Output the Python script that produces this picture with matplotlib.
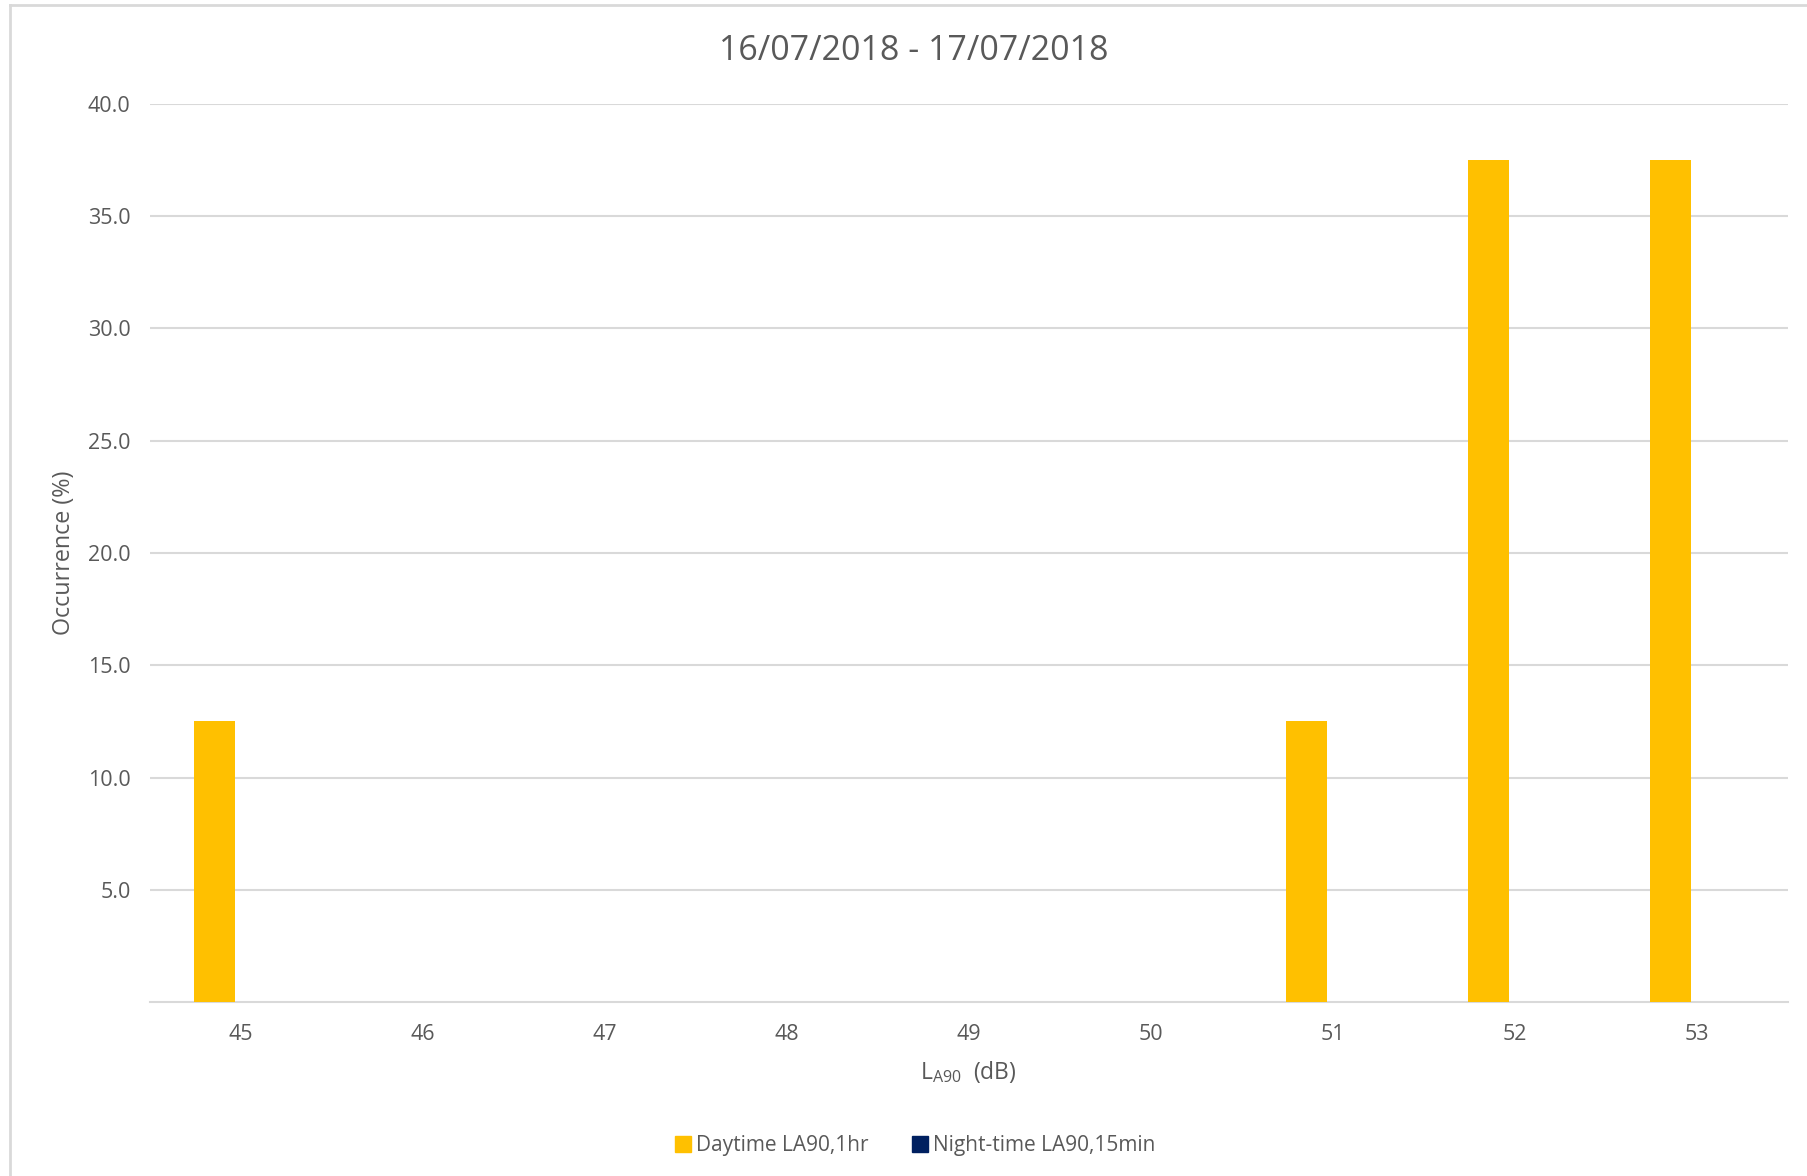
import numpy as np
import matplotlib
matplotlib.use("Agg")
import matplotlib.pyplot as plt
from matplotlib.lines import Line2D

plt.rcParams['font.family'] = ['Open Sans', 'DejaVu Sans']
plt.rcParams['mathtext.fontset'] = 'custom'
plt.rcParams['mathtext.rm'] = 'Open Sans'

levels = ["45", "46", "47", "48", "49", "50", "51", "52", "53"]
daytime = [12.5, 0, 0, 0, 0, 0, 12.5, 37.5, 37.5]
nighttime = [0, 0, 0, 0, 0, 0, 0, 0, 0]
yticks = [5.0, 10.0, 15.0, 20.0, 25.0, 30.0, 35.0, 40.0]

W, H = 1807, 1176
fig = plt.figure(figsize=(W / 100, H / 100), dpi=100)
ax = fig.add_axes([150 / W, 1 - 1002 / H, (1788 - 150) / W, (1002 - 104) / H])

grey = "#595959"
x = np.arange(len(levels))
bw = 0.225
ax.bar(x - 0.143, daytime, bw, color="#FFC000", zorder=3)
ax.bar(x + 0.143, nighttime, bw, color="#002060", zorder=3)

ax.set_xlim(-0.5, len(levels) - 0.5)
ax.set_ylim(0, 40)
ax.set_yticks(yticks)
ax.set_yticklabels([f"{v:.1f}" for v in yticks])
ax.set_xticks(x)
ax.set_xticklabels(levels)
ax.yaxis.grid(True, color="#d9d9d9", lw=1.5, zorder=0)
ax.tick_params(length=0, labelsize=15.5, colors=grey)
ax.tick_params(axis="y", pad=14)
ax.tick_params(axis="x", pad=16)
for s in ["top", "right", "left"]:
    ax.spines[s].set_visible(False)
ax.spines["bottom"].set_color("#d9d9d9")
ax.spines["bottom"].set_linewidth(1.5)

fig.text(914 / W, 1 - 51 / H, "16/07/2018 - 17/07/2018", ha="center", va="center",
         fontsize=24.5, color=grey)
fig.text(64 / W, 1 - 553 / H, "Occurrence (%)", rotation=90, ha="center", va="center",
         fontsize=16.8, color=grey)
fig.text(968 / W, 1 - 1072 / H, r"$\mathregular{L_{A90}}$  (dB)", ha="center", va="center",
         fontsize=16.5, color=grey)

handles = [Line2D([], [], marker="s", ls="", color="#FFC000", markersize=12),
           Line2D([], [], marker="s", ls="", color="#002060", markersize=12)]
fig.legend(handles, ["Daytime LA90,1hr", "Night-time LA90,15min"], loc="center",
           bbox_to_anchor=(914 / W, 1 - 1146 / H), ncol=2, frameon=False, fontsize=15,
           labelcolor=grey, handletextpad=0.1, columnspacing=2.0, handlelength=1.0)

# light chart frame on the left and top
fig.add_artist(Line2D([10 / W, 10 / W], [0, 1 - 5 / H], color="#d9d9d9", lw=2))
fig.add_artist(Line2D([10 / W, 1], [1 - 5 / H, 1 - 5 / H], color="#d9d9d9", lw=2))

fig.savefig("out.png", dpi=100)
